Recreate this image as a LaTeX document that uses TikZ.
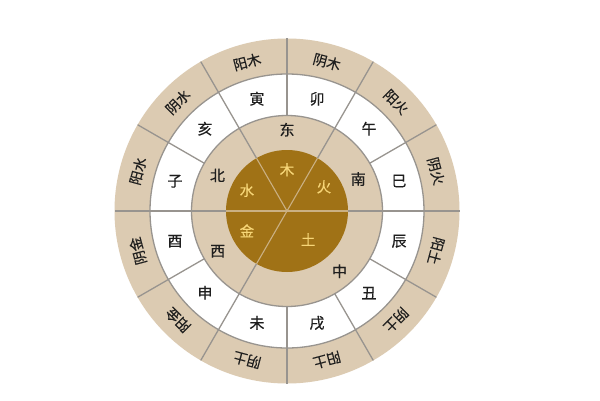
\documentclass[tikz,border=0pt]{standalone}
\usepackage{fontspec}
\newfontfamily\cjk[FakeBold=0.4]{Noto Sans CJK SC}
\definecolor{tanc}{RGB}{220,203,178}
\definecolor{brownc}{RGB}{160,114,22}
\definecolor{linec}{RGB}{152,148,143}
\definecolor{goldc}{RGB}{247,214,120}
\definecolor{inkc}{RGB}{30,30,30}
\tikzset{
  ringline/.style={linec, line width=1.3pt},
  coreline/.style={tanc!70!brownc, line width=1.1pt},
  outlabel/.style={inkc, font=\cjk\fontsize{14}{14}\selectfont, inner sep=0pt, text height=11pt, text depth=1pt},
  midlabel/.style={inkc, font=\cjk\fontsize{15}{15}\selectfont, inner sep=0pt, text height=12pt, text depth=1pt},
  corelabel/.style={goldc, font=\cjk\fontsize{14.5}{14.5}\selectfont, inner sep=0pt, text height=11.5pt, text depth=1pt}
}
\begin{document}
\begin{tikzpicture}[x=1pt,y=1pt]
\useasboundingbox (0,0) rectangle (600,400);
\fill[white] (0,0) rectangle (600,400);
\begin{scope}[shift={(287,189)}]
  \fill[tanc] (0,0) circle (172.5);
  \fill[white] (0,0) circle (137);
  \fill[tanc] (0,0) circle (95.5);
  \fill[brownc] (0,0) circle (61);
  \draw[ringline] (0,0) circle (137);
  \draw[ringline] (0,0) circle (95.5);
  \foreach \a in {0,30,...,330} \draw[ringline] (\a:95.5) -- (\a:172.5);
  \foreach \a in {0,60,120,180,240} {
    \draw[ringline] (\a:61) -- (\a:95.5);
    \draw[coreline] (0,0) -- (\a:61);
  }
  % outer ring labels
  \foreach \a/\t [count=\i] in {105/阳木,75/阴木,45/阳火,15/阴火,-15/阳土,-45/阴土,-75/阳土,-105/阴土,-135/阳金,-165/阴金,165/阳水,135/阴水}
    \node[outlabel, rotate=\a-90] (out\i) at (\a:154) {\t};
  % white ring labels
  \foreach \a/\t [count=\i] in {105/寅,75/卯,45/午,15/巳,-15/辰,-45/丑,-75/戌,-105/未,-135/申,-165/酉,165/子,135/亥}
    \node[midlabel] (mid\i) at (\a:116) {\t};
  % inner ring labels
  \node[midlabel] (east) at (90:81) {东};
  \node[midlabel] (south) at (24:78) {南};
  \node[midlabel] (north) at (153:78) {北};
  \node[midlabel] (west) at (210:80) {西};
  \node[midlabel] (centre) at (-49:80) {中};
  % core labels
  \node[corelabel] (wood) at (90:41) {木};
  \node[corelabel] (fire) at (33:44) {火};
  \node[corelabel] (water) at (153:45) {水};
  \node[corelabel] (metal) at (207:45) {金};
  \node[corelabel] (earth) at (-54:36) {土};
\end{scope}
\end{tikzpicture}
\end{document}
